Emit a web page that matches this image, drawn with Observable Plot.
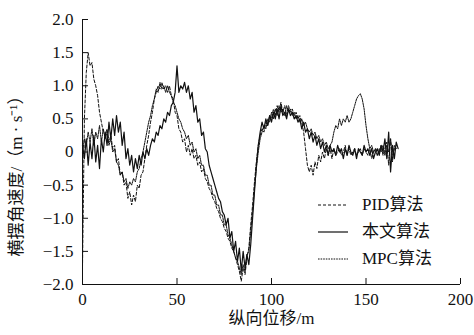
<!DOCTYPE html>
<html>
<head>
<meta charset="utf-8">
<script src="https://cdn.jsdelivr.net/npm/d3@7"></script>
<script src="https://cdn.jsdelivr.net/npm/@observablehq/plot@0.6"></script>
<style>
  html, body { margin: 0; padding: 0; background: #fff; }
  #wrap { position: relative; width: 474px; height: 335px; font-family: "Liberation Serif", "Noto Sans CJK SC", serif; color: #111; }
  #legend { position: absolute; left: 318px; top: 191px; font-size: 17px; line-height: 27px; }
  #legend .row { display: flex; align-items: center; height: 27px; }
  #legend svg { margin-right: 14px; }
</style>
</head>
<body>
<div id="wrap"></div>
<script>
// sampled every 1 m of longitudinal displacement, starting at 0
const xStep = 1;
const seriesNames = ["PID算法", "本文算法", "MPC算法"];
const xTicks = [0, 50, 100, 150, 200];
const yTicks = [-2, -1.5, -1, -0.5, 0, 0.5, 1, 1.5, 2];

const pid = [-1.75,0.5,1.2,1.5,1.3,1.35,1.1,1.0,0.85,0.6,0.45,0.3,0.25,0.35,0.15,0.25,0.05,0.1,-0.15,-0.1,
-0.35,-0.3,-0.5,-0.45,-0.7,-0.6,-0.8,-0.65,-0.75,-0.5,-0.55,-0.35,-0.3,-0.1,0.1,0.25,0.45,0.6,0.8,0.9,
1.0,0.95,1.05,0.95,1.0,0.9,1.0,0.85,0.8,0.6,0.55,0.35,0.3,0.15,0.2,0.0,0.1,-0.05,0.05,-0.1,
-0.05,-0.2,-0.15,-0.3,-0.25,-0.4,-0.45,-0.55,-0.6,-0.7,-0.75,-0.85,-0.9,-1.0,-1.05,-1.15,-1.2,-1.3,-1.35,-1.45,
-1.5,-1.6,-1.7,-1.8,-1.95,-1.75,-1.85,-1.6,-1.45,-1.1,-0.8,-0.45,-0.15,0.1,0.25,0.35,0.3,0.45,0.4,0.55,
0.5,0.65,0.55,0.7,0.6,0.75,0.6,0.7,0.55,0.7,0.6,0.65,0.55,0.6,0.5,0.55,0.45,0.3,0.05,-0.2,
-0.3,-0.2,-0.35,-0.15,-0.25,-0.05,-0.15,0.0,-0.1,0.05,-0.05,0.05,-0.1,0.05,-0.05,0.0,0.05,-0.05,0.0,0.1,
-0.05,0.05,-0.05,0.0,0.05,-0.05,0.0,0.05,-0.05,0.05,0.0,-0.05,0.05,-0.1,0.0,0.05,-0.05,0.0,0.1,-0.05,
0.05,0.15,-0.2,0.2,-0.1,0.05,0.1];

const ours = [0.1,-0.1,0.2,-0.2,0.15,-0.1,0.25,-0.15,0.1,-0.25,0.2,0.0,0.3,0.1,0.45,0.2,0.5,0.25,0.55,0.3,
0.45,0.1,0.3,-0.1,0.05,-0.2,-0.05,-0.3,-0.1,-0.25,-0.05,-0.2,0.0,-0.1,0.05,-0.05,0.1,0.2,0.15,0.3,
0.25,0.4,0.35,0.5,0.45,0.6,0.55,0.7,0.75,0.9,1.3,0.9,1.0,0.95,1.05,0.9,1.0,0.8,0.9,0.6,
0.7,0.45,0.5,0.25,0.3,0.05,0.0,-0.2,-0.3,-0.4,-0.5,-0.6,-0.7,-0.75,-0.9,-0.95,-1.1,-1.0,-1.3,-1.2,
-1.5,-1.35,-1.65,-1.45,-1.8,-1.5,-1.75,-1.55,-1.7,-1.4,-1.0,-0.6,-0.2,0.1,0.3,0.45,0.35,0.5,0.4,0.55,
0.45,0.6,0.5,0.65,0.5,0.7,0.55,0.6,0.5,0.65,0.55,0.6,0.5,0.55,0.45,0.5,0.35,0.45,0.3,0.35,
0.2,0.3,0.15,0.25,0.1,0.2,0.05,0.15,0.0,0.1,-0.05,0.1,0.0,0.05,-0.05,0.1,0.0,0.05,-0.1,0.05,
-0.05,0.1,0.0,-0.05,0.05,-0.1,0.05,0.0,-0.05,0.1,0.0,0.05,-0.05,0.05,-0.1,0.0,0.05,-0.05,0.1,0.0,
0.2,-0.1,0.3,-0.3,0.1,-0.1,0.15,0.05];

const mpc = [0.0,0.2,0.1,0.3,0.15,0.35,0.1,0.3,0.2,0.4,0.15,0.35,0.2,0.3,0.1,0.2,0.0,0.05,-0.15,-0.2,
-0.35,-0.3,-0.45,-0.4,-0.55,-0.45,-0.5,-0.4,-0.45,-0.3,-0.25,-0.1,0.0,0.15,0.3,0.45,0.55,0.7,0.8,0.95,
0.9,1.05,0.95,1.0,0.9,1.0,0.9,0.85,0.75,0.7,0.6,0.5,0.45,0.35,0.3,0.2,0.25,0.1,0.15,0.0,
0.05,-0.1,-0.05,-0.2,-0.2,-0.35,-0.35,-0.5,-0.5,-0.65,-0.65,-0.8,-0.8,-0.95,-0.95,-1.1,-1.1,-1.25,-1.3,-1.4,
-1.5,-1.6,-1.65,-1.75,-1.85,-1.7,-1.8,-1.55,-1.5,-1.2,-0.9,-0.55,-0.25,0.0,0.2,0.3,0.4,0.35,0.5,0.45,
0.6,0.5,0.65,0.55,0.7,0.6,0.65,0.55,0.7,0.6,0.65,0.55,0.6,0.5,0.55,0.45,0.5,0.4,0.45,0.35,
0.3,0.35,0.25,0.3,0.2,0.25,0.15,0.2,0.1,0.15,0.05,0.1,0.15,0.3,0.4,0.35,0.5,0.4,0.5,0.45,
0.55,0.45,0.5,0.6,0.7,0.8,0.85,0.88,0.8,0.65,0.4,0.2,0.05,0.1,0.0,0.05,-0.05,0.05,0.0,0.1,
-0.05,0.1,0.0,0.2,-0.15,0.1,0.05];

const styles = {
  "PID算法": {dash: "3,2", width: 1},
  "本文算法": {dash: null, width: 1.2},
  "MPC算法": {dash: "1.6,1", width: 1}
};

const toRows = (arr, name) => arr.map((v, i) => ({x: i * xStep, y: v, s: name}));
const data = {
  "PID算法": toRows(pid, "PID算法"),
  "本文算法": toRows(ours, "本文算法"),
  "MPC算法": toRows(mpc, "MPC算法")
};

const fmt = d => d === 0 ? "0" : (d < 0 ? "\u2212" : "") + Math.abs(d).toFixed(1);
const ink = "#111";

const chart = Plot.plot({
  width: 474,
  height: 335,
  marginLeft: 82,
  marginRight: 14,
  marginTop: 19,
  marginBottom: 51,
  style: {fontFamily: "'Liberation Serif', 'Noto Sans CJK SC', serif", fontSize: "17px", color: ink, background: "#fff", overflow: "visible"},
  x: {domain: [0, 200]},
  y: {domain: [-2, 2]},
  marks: [
    ...seriesNames.map(n => Plot.line(data[n], {x: "x", y: "y", stroke: ink, strokeWidth: styles[n].width, strokeDasharray: styles[n].dash})),
    Plot.axisX({ticks: xTicks, tickSize: -6, tickPadding: 14, tickFormat: d => String(d), label: null, fontSize: 17, stroke: ink, fill: ink}),
    Plot.axisY({ticks: yTicks, tickSize: -6, tickPadding: 15, tickFormat: fmt, label: null, fontSize: 17, stroke: ink, fill: ink}),
    Plot.ruleX([0], {stroke: ink}),
    Plot.ruleY([-2], {stroke: ink}),
    Plot.text(["纵向位移/m"], {frameAnchor: "bottom", dy: 39, fontSize: 17, fill: ink}),
    Plot.text(["横摆角速度/（m · s⁻¹）"], {frameAnchor: "left", textAnchor: "middle", rotate: -90, dx: -66, dy: 20, fontSize: 17, fill: ink})
  ]
});
document.getElementById("wrap").appendChild(chart);

// legend overlay
const legend = document.createElement("div");
legend.id = "legend";
for (const n of seriesNames) {
  const row = document.createElement("div");
  row.className = "row";
  const dash = styles[n].dash ? ` stroke-dasharray="${styles[n].dash}"` : "";
  row.innerHTML = `<svg width="30" height="6"><line x1="0" y1="3" x2="30" y2="3" stroke="${ink}" stroke-width="${styles[n].width}"${dash}/></svg><span>${n}</span>`;
  legend.appendChild(row);
}
document.getElementById("wrap").appendChild(legend);
</script>
</body>
</html>
